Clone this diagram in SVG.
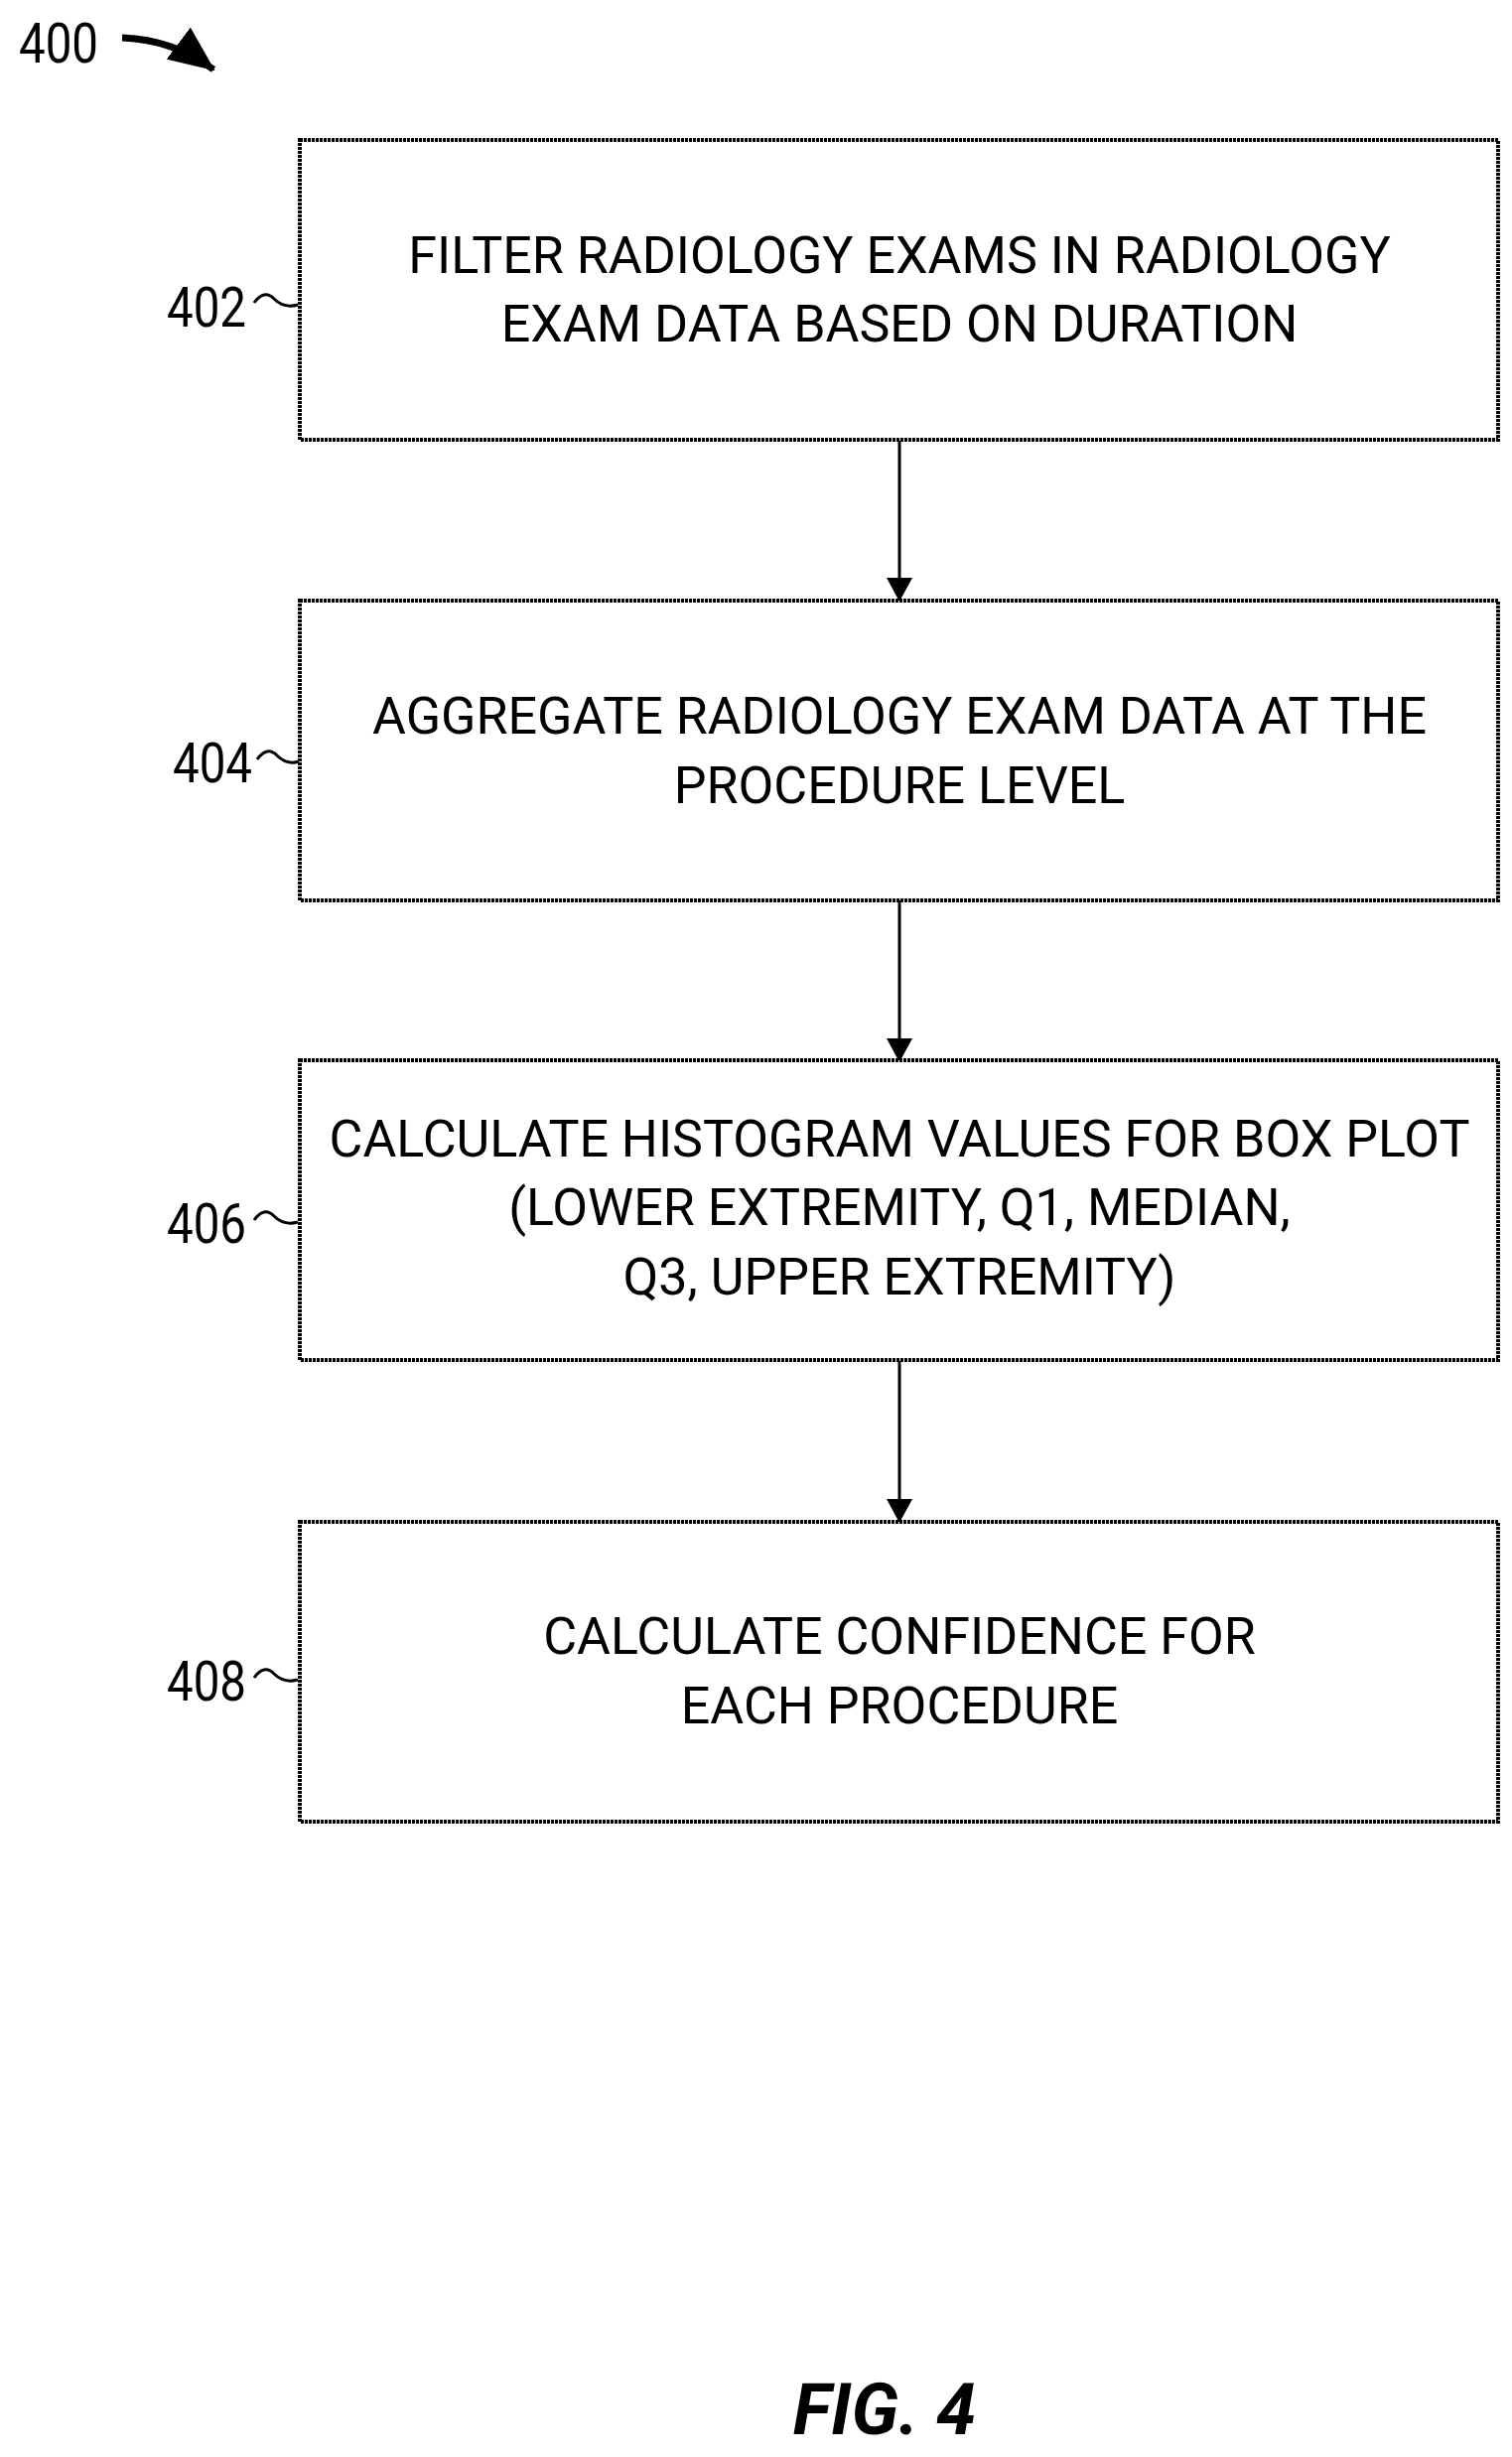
<svg xmlns="http://www.w3.org/2000/svg" width="1523" height="2475" viewBox="0 0 1523 2475">
<style>
.t{font-family:Roboto,"Liberation Sans",sans-serif;font-size:52px;fill:#000;text-anchor:middle}
.l{font-family:Roboto,"Liberation Sans",sans-serif;font-size:56px;fill:#000;text-anchor:end}
.b{fill:#fff;stroke:#000;stroke-width:4;stroke-dasharray:3 1}
.c{fill:none;stroke:#000;stroke-width:3}
</style>
<defs>
<marker id="ah2" markerWidth="24" markerHeight="26" refX="22" refY="13" orient="auto" markerUnits="userSpaceOnUse"><path d="M0,0 L24,13 L0,26 z" fill="#000"/></marker>
<marker id="ah3" markerWidth="46" markerHeight="40" refX="44" refY="20" orient="auto" markerUnits="userSpaceOnUse"><path d="M0,0 L46,20 L0,40 z" fill="#000"/></marker></defs>
<g id="title"><text x="19" y="63" class="l" style="text-anchor:start" textLength="80" lengthAdjust="spacingAndGlyphs">400</text>
<path d="M123,38 Q175,40 215,70" fill="none" stroke="#000" stroke-width="7" marker-end="url(#ah3)"/></g>
<g id="connectors">
<line x1="906" y1="444" x2="906" y2="604" class="c" marker-end="url(#ah2)"/>
<line x1="906" y1="907" x2="906" y2="1068" class="c" marker-end="url(#ah2)"/>
<line x1="906" y1="1371" x2="906" y2="1532" class="c" marker-end="url(#ah2)"/>
</g>
<g id="n402"><rect x="302" y="141" width="1207" height="302" class="b"/>
<text x="906" y="275" class="t">FILTER RADIOLOGY EXAMS IN RADIOLOGY</text>
<text x="906" y="344" class="t">EXAM DATA BASED ON DURATION</text>
<text x="248" y="329" class="l" textLength="80" lengthAdjust="spacingAndGlyphs">402</text><path d="M256,305 q10,-14 20,-4 t24,6" class="c"/></g>
<g id="n404"><rect x="302" y="605" width="1207" height="302" class="b"/>
<text x="906" y="739" class="t">AGGREGATE RADIOLOGY EXAM DATA AT THE</text>
<text x="906" y="809" class="t">PROCEDURE LEVEL</text>
<text x="254" y="788" class="l" textLength="80" lengthAdjust="spacingAndGlyphs">404</text><path d="M259,765 q10,-14 20,-4 t22,6" class="c"/></g>
<g id="n406"><rect x="302" y="1068" width="1207" height="302" class="b"/>
<text x="906" y="1165" class="t">CALCULATE HISTOGRAM VALUES FOR BOX PLOT</text>
<text x="906" y="1234" class="t">(LOWER EXTREMITY, Q1, MEDIAN,</text>
<text x="906" y="1304" class="t">Q3, UPPER EXTREMITY)</text>
<text x="248" y="1252" class="l" textLength="80" lengthAdjust="spacingAndGlyphs">406</text><path d="M256,1229 q10,-14 20,-4 t24,6" class="c"/></g>
<g id="n408"><rect x="302" y="1533" width="1207" height="302" class="b"/>
<text x="906" y="1666" class="t">CALCULATE CONFIDENCE FOR</text>
<text x="906" y="1736" class="t">EACH PROCEDURE</text>
<text x="248" y="1713" class="l" textLength="80" lengthAdjust="spacingAndGlyphs">408</text><path d="M256,1690 q10,-14 20,-4 t24,6" class="c"/></g>
<text x="891" y="2452" style="font-family:Roboto,'Liberation Sans',sans-serif;font-size:72px;font-weight:bold;font-style:italic;text-anchor:middle">FIG. 4</text>
</svg>
